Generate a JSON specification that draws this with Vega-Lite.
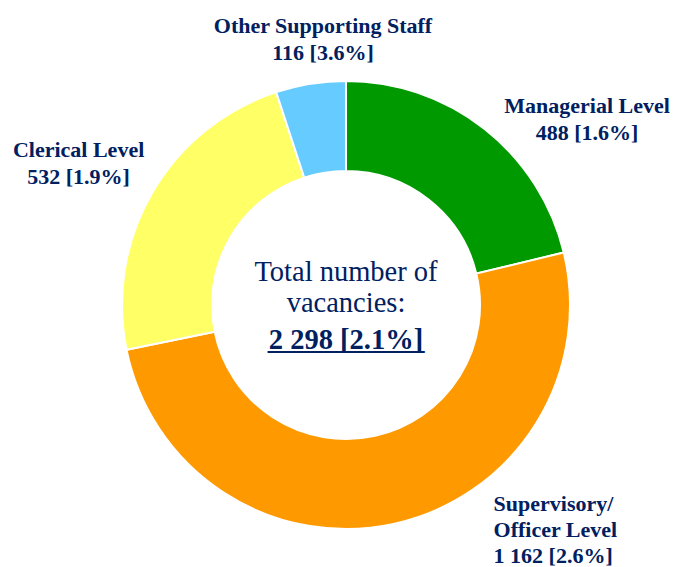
{
  "$schema": "https://vega.github.io/schema/vega-lite/v6.json",
  "width": 656,
  "height": 524,
  "autosize": "none",
  "padding": {"left": 18, "top": 43, "right": 0, "bottom": 0},
  "background": "white",
  "view": {"stroke": null},
  "config": {"text": {"font": "Liberation Serif, Times New Roman, serif"}},
  "datasets": {
    "jobs": [
      {"category": "Managerial Level", "vacancies": 488, "label": "Managerial Level\n488 [1.6%]", "rank": 1},
      {"category": "Supervisory/Officer Level", "vacancies": 1162, "label": "Supervisory/\nOfficer Level\n1 162 [2.6%]", "rank": 2},
      {"category": "Clerical Level", "vacancies": 532, "label": "Clerical Level\n532 [1.9%]", "rank": 3},
      {"category": "Other Supporting Staff", "vacancies": 116, "label": "Other Supporting Staff\n116 [3.6%]", "rank": 4}
    ]
  },
  "layer": [
    {
      "data": {"name": "jobs"},
      "mark": {"type": "arc", "innerRadius": 134, "outerRadius": 224, "stroke": "white", "strokeWidth": 2},
      "encoding": {
        "theta": {"field": "vacancies", "type": "quantitative", "stack": true},
        "order": {"field": "rank", "type": "quantitative"},
        "color": {"field": "category", "type": "nominal", "legend": null,
          "scale": {"domain": ["Managerial Level", "Supervisory/Officer Level", "Clerical Level", "Other Supporting Staff"],
                    "range": ["#009900", "#FF9900", "#FFFF66", "#66CCFF"]}}
      }
    },
    {
      "data": {"name": "jobs"},
      "mark": {"type": "text", "radius": 304, "dx": 53, "dy": 40, "fontSize": 22, "fontWeight": "bold", "fill": "#002060", "lineBreak": "\n", "lineHeight": 27, "align": "center", "baseline": "middle"},
      "encoding": {
        "theta": {"field": "vacancies", "type": "quantitative", "stack": true},
        "order": {"field": "rank", "type": "quantitative"},
        "text": {"condition": {"test": "datum.category === 'Managerial Level'", "field": "label"}, "value": ""}
      }
    },
    {
      "data": {"name": "jobs"},
      "mark": {"type": "text", "radius": 270, "dx": 89, "dy": -65, "fontSize": 22, "fontWeight": "bold", "fill": "#002060", "lineBreak": "\n", "lineHeight": 26, "align": "left", "baseline": "middle"},
      "encoding": {
        "theta": {"field": "vacancies", "type": "quantitative", "stack": true},
        "order": {"field": "rank", "type": "quantitative"},
        "text": {"condition": {"test": "datum.category === 'Supervisory/Officer Level'", "field": "label"}, "value": ""}
      }
    },
    {
      "data": {"name": "jobs"},
      "mark": {"type": "text", "radius": 300, "dx": -8, "dy": -4, "fontSize": 22, "fontWeight": "bold", "fill": "#002060", "lineBreak": "\n", "lineHeight": 27, "align": "center", "baseline": "middle"},
      "encoding": {
        "theta": {"field": "vacancies", "type": "quantitative", "stack": true},
        "order": {"field": "rank", "type": "quantitative"},
        "text": {"condition": {"test": "datum.category === 'Clerical Level'", "field": "label"}, "value": ""}
      }
    },
    {
      "data": {"name": "jobs"},
      "mark": {"type": "text", "radius": 266, "dx": 19, "dy": -16, "fontSize": 22, "fontWeight": "bold", "fill": "#002060", "lineBreak": "\n", "lineHeight": 27, "align": "center", "baseline": "middle"},
      "encoding": {
        "theta": {"field": "vacancies", "type": "quantitative", "stack": true},
        "order": {"field": "rank", "type": "quantitative"},
        "text": {"condition": {"test": "datum.category === 'Other Supporting Staff'", "field": "label"}, "value": ""}
      }
    },
    {
      "data": {"values": [{"t": "Total number of\nvacancies:"}]},
      "mark": {"type": "text", "dy": -33, "fontSize": 28.5, "fill": "#002060", "lineBreak": "\n", "lineHeight": 31, "align": "center", "baseline": "middle"},
      "encoding": {"text": {"field": "t", "type": "nominal"}}
    },
    {
      "data": {"values": [{"t": "2 298 [2.1%]"}]},
      "mark": {"type": "text", "dy": 35, "fontSize": 28.5, "fontWeight": "bold", "fill": "#002060", "align": "center", "baseline": "middle"},
      "encoding": {"text": {"field": "t", "type": "nominal"}}
    },
    {
      "data": {"values": [{"t": "___________"}]},
      "mark": {"type": "text", "dy": 35, "fontSize": 28.5, "fontWeight": "bold", "fill": "#002060", "align": "center", "baseline": "middle"},
      "encoding": {"text": {"field": "t", "type": "nominal"}}
    }
  ]
}
